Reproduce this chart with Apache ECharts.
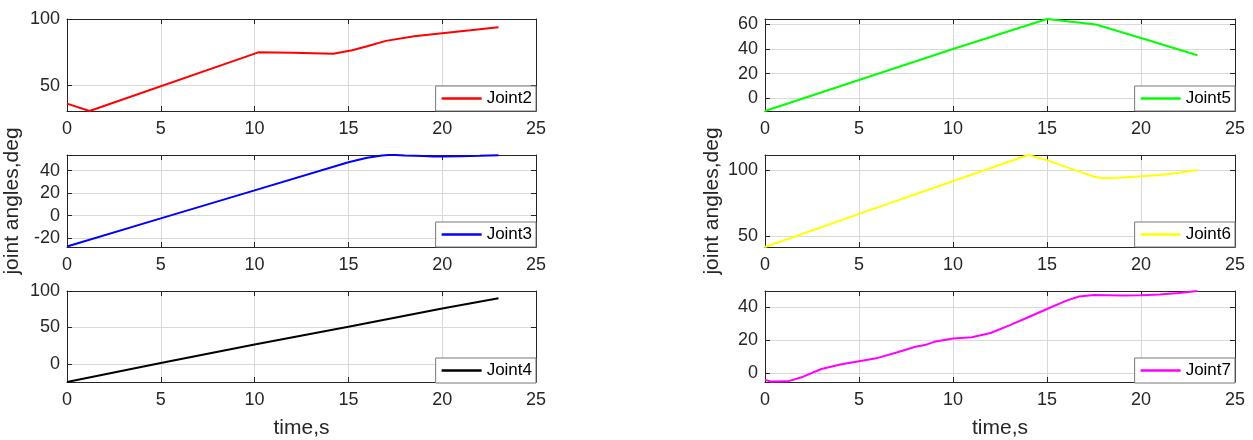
<!DOCTYPE html>
<html>
<head>
<meta charset="utf-8">
<script src="https://cdn.jsdelivr.net/npm/echarts@6/dist/echarts.min.js"></script>
<style>
  html, body { margin: 0; padding: 0; background: #fff; }
  #main { width: 1253px; height: 440px; }
</style>
</head>
<body>
<div id="main"></div>
<script>
// joint angle traces, [time s, angle deg]
const joint2 = [[0, 36.5], [1.2, 31], [10.2, 75], [12, 74.6], [14.2, 74], [15.2, 76.6], [16, 79.5], [17, 83.6], [18.5, 87], [20, 89.3], [21.5, 91.5], [23, 93.8]];
const joint3 = [[0, -27.5], [5, -2.5], [10, 22.5], [15, 47.5], [16, 51.5], [16.8, 53.5], [17.3, 54.2], [18, 53.6], [19, 53], [19.5, 52.6], [20, 52.7], [21, 52.9], [22, 53.3], [23, 53.8]];
const joint4 = [[0, -25], [5, 1], [10, 26.5], [15, 51], [20, 76], [23, 90]];
const joint5 = [[0, -10.5], [5, 14.8], [10, 40], [15, 64.5], [17.6, 60], [20, 49], [23, 35]];
const joint6 = [[0, 41.5], [5, 66.7], [14, 111.5], [15, 107.6], [16, 102.5], [17, 97.5], [17.5, 95], [18, 93.8], [19, 94.4], [20, 95.3], [21, 96.2], [22, 98], [23, 100]];
const joint7 = [[0, -4.2], [0.3, -5.2], [1.2, -5.1], [2, -2.4], [3, 2.4], [4, 5.2], [5, 7.2], [6, 9.2], [7, 12.5], [8, 16], [8.5, 17], [9, 19], [10, 21], [11, 21.8], [12, 24.4], [13, 29], [14, 34], [15, 39], [16, 44], [16.7, 46.6], [17.5, 47.6], [19, 47.2], [20, 47.4], [21, 47.8], [22, 48.8], [23, 50]];

const names = ['Joint2', 'Joint3', 'Joint4', 'Joint5', 'Joint6', 'Joint7'];
const series_data = [joint2, joint3, joint4, joint5, joint6, joint7];
const colors = ['#ff0000', '#0000ff', '#000000', '#00ff00', '#ffff00', '#ff00ff'];
const yMin = [31, -28, -25, -10.5, 41.5, -5.5];
const yMax = [100, 54, 100, 64.5, 111.5, 50];
const yTicks = [[50, 100], [-20, 0, 20, 40], [0, 50, 100], [0, 20, 40, 60], [50, 100], [0, 20, 40]];

const chart = echarts.init(document.getElementById('main'));

const font = 'Arial, "Liberation Sans", Helvetica, sans-serif';
const txt = '#262626';
const gridCol = '#d9d9d9';
const tops = [19, 155, 291];
const plotH = 92;
const lefts = [67, 765];
const widths = [469, 470];

const grids = [], xAxes = [], yAxes = [], legends = [], series = [];

for (let i = 0; i < 6; i++) {
    const col = i < 3 ? 0 : 1;
    const row = i % 3;
    grids.push({
        left: lefts[col], top: tops[row], width: widths[col], height: plotH,
        containLabel: false
    });
    // bottom x axis
    xAxes.push({
        gridIndex: i, type: 'value', min: 0, max: 25, interval: 5,
        position: 'bottom',
        axisLine: { show: true, onZero: false, lineStyle: { color: txt, width: 1 } },
        axisTick: { show: true, inside: true, length: 5, lineStyle: { color: txt } },
        axisLabel: { color: txt, fontSize: 18, fontFamily: font, margin: 9 },
        splitLine: { show: true, lineStyle: { color: gridCol, width: 1 } },
        name: row === 2 ? 'time,s' : '',
        nameLocation: 'middle', nameGap: 36,
        nameTextStyle: { color: txt, fontSize: 21, fontFamily: font }
    });
    // top x axis (ticks only)
    xAxes.push({
        gridIndex: i, type: 'value', min: 0, max: 25, interval: 5,
        position: 'top',
        axisLine: { show: true, onZero: false, lineStyle: { color: txt, width: 1 } },
        axisTick: { show: true, inside: true, length: 5, lineStyle: { color: txt } },
        axisLabel: { show: false },
        splitLine: { show: false }
    });
    // left y axis
    yAxes.push({
        gridIndex: i, type: 'value', min: yMin[i], max: yMax[i],
        position: 'left',
        axisLine: { show: true, onZero: false, lineStyle: { color: txt, width: 1 } },
        axisTick: { show: true, inside: true, length: 5, customValues: yTicks[i], lineStyle: { color: txt } },
        axisLabel: { color: txt, fontSize: 18, fontFamily: font, margin: 7, customValues: yTicks[i] },
        splitLine: { show: true, lineStyle: { color: gridCol, width: 1 } },
        name: row === 1 ? 'joint angles,deg' : '',
        nameLocation: 'middle', nameGap: col === 0 ? 44 : 42,
        nameTextStyle: { color: txt, fontSize: 21, fontFamily: font }
    });
    // right y axis (ticks only)
    yAxes.push({
        gridIndex: i, type: 'value', min: yMin[i], max: yMax[i],
        position: 'right',
        axisLine: { show: true, onZero: false, lineStyle: { color: txt, width: 1 } },
        axisTick: { show: true, inside: true, length: 5, customValues: yTicks[i], lineStyle: { color: txt } },
        axisLabel: { show: false, customValues: yTicks[i] },
        splitLine: { show: false }
    });
    legends.push({
        data: [{ name: names[i], icon: 'rect' }],
        right: col === 0 ? 1253 - 536 : 1253 - 1235,
        top: tops[row] + plotH - 25,
        orient: 'horizontal',
        backgroundColor: '#ffffff',
        borderColor: '#777777',
        borderWidth: 1,
        borderRadius: 0,
        padding: [4, 4, 4, 6],
        itemWidth: 40,
        itemHeight: 2.5,
        itemGap: 4,
        textStyle: { color: '#000', fontSize: 17, fontFamily: font, lineHeight: 17 },
        selectedMode: false
    });
    series.push({
        name: names[i],
        type: 'line',
        xAxisIndex: 2 * i,
        yAxisIndex: 2 * i,
        data: series_data[i],
        symbol: 'none',
        showSymbol: false,
        clip: true,
        color: colors[i],
        lineStyle: { color: colors[i], width: 2 },
        animation: false
    });
}

chart.setOption({
    backgroundColor: '#ffffff',
    animation: false,
    grid: grids,
    xAxis: xAxes,
    yAxis: yAxes,
    legend: legends,
    series: series
});
</script>
</body>
</html>
